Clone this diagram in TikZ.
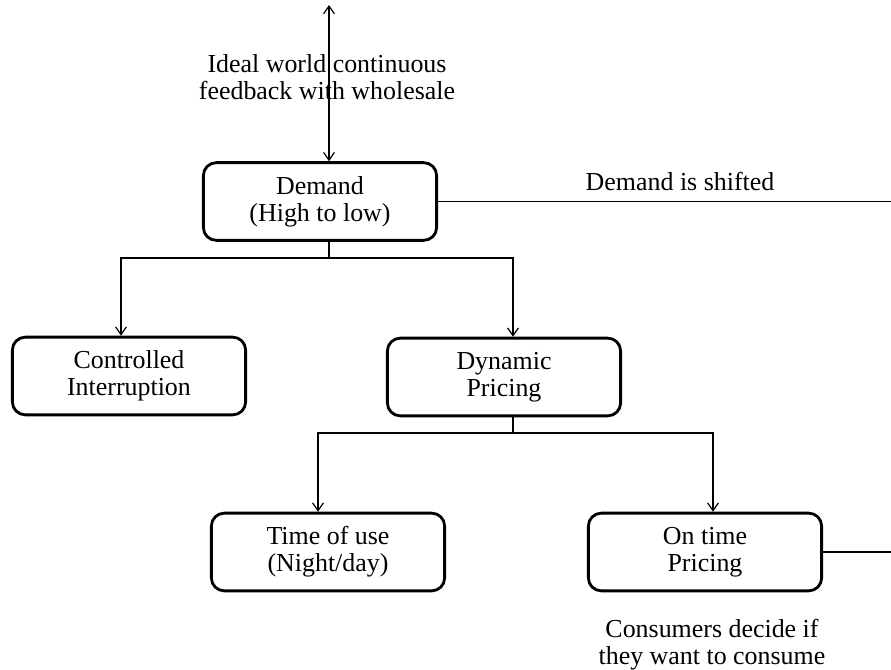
\documentclass[tikz,border=0pt]{standalone}
\usepackage{fontspec}
\setmainfont{Liberation Serif}
\usepackage{tikz}
\usetikzlibrary{arrows.meta}

\begin{document}
\begin{tikzpicture}[x=0.463pt,y=-0.463pt,
    box/.style={draw,line width=1.3pt,rounded corners=6pt,minimum width=108pt,
      minimum height=36pt,align=center,inner sep=0pt},
    every node/.style={font=\fontsize{12}{12.5}\selectfont},
    link/.style={line width=0.55pt},
    tip/.style={-{Straight Barb[length=3.6pt,width=5pt]}}]
    \useasboundingbox (0,0) rectangle (891,669);
    % boxes
    \node [box] (demand) at (320,201.5) {Demand\\(High to low)};
    \node [box] (ctrl) at (129,376) {Controlled\\Interruption};
    \node [box] (dyn) at (504,377) {Dynamic\\Pricing};
    \node [box] (tou) at (328,552) {Time of use\\(Night/day)};
    \node [box] (ontime) at (705,552) {On time\\Pricing};
    % free ends
    \coordinate (top) at (329,5);
    \coordinate (edge) at (891,0);
    \coordinate (split1) at (329,258);
    \coordinate (split2) at (513,433);
    \coordinate (x1) at (121,0);
    \coordinate (x2) at (513,0);
    \coordinate (x3) at (318,0);
    \coordinate (x4) at (713,0);
    % top feedback
    \draw [link,{Straight Barb[length=3.6pt,width=5pt]}-{Straight Barb[length=3.6pt,width=5pt]}]
      (top) -- (top |- demand.north);
    \node [align=center] (ideal) at (327,77) {Ideal world continuous\\feedback with wholesale};
    % shifted demand
    \draw [link] (demand.east) -- (demand.east -| edge);
    \node (shift) at (680,181) {Demand is shifted};
    % first split
    \draw [link] (split1 |- demand.south) -- (split1);
    \draw [link,tip] (split1) -| (x1 |- ctrl.north);
    \draw [link,tip] (split1) -| (x2 |- dyn.north);
    % second split
    \draw [link] (split2 |- dyn.south) -- (split2);
    \draw [link,tip] (split2) -| (x3 |- tou.north);
    \draw [link,tip] (split2) -| (x4 |- ontime.north);
    \draw [link] (ontime.east) -- (ontime.east -| edge);
    \node [align=center] (decide) at (712,645) {Consumers decide if\\they want to consume};
\end{tikzpicture}
\end{document}
